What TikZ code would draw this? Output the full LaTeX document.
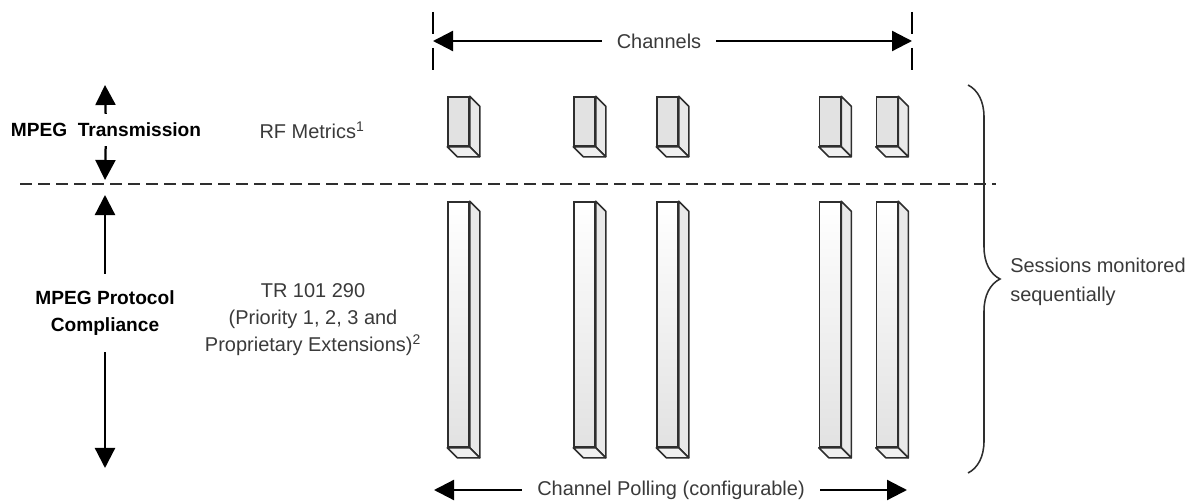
\documentclass[tikz,border=0pt]{standalone}
\usepackage{fontspec}
\setmainfont{Liberation Sans}
\usetikzlibrary{arrows.meta, decorations.pathreplacing}
\definecolor{cline}{HTML}{2E2E2E}
\definecolor{cface}{HTML}{E2E2E2}
\definecolor{cside}{HTML}{E9E9E9}
\definecolor{cbottom}{HTML}{F0F0F0}
\definecolor{ctext}{HTML}{3A3A3A}
\tikzset{
  every picture/.style={x=0.025cm, y=-0.025cm},
  lbl/.style={font=\fontsize{14.2}{19}\selectfont, text=ctext, align=center, inner sep=0pt},
  side/.style={font=\fontsize{13.6}{19}\selectfont\bfseries, text=black, align=center, inner xsep=0pt},
  front/.style={draw=cline, fill=cface, line width=1.1pt, minimum width=0.525cm, minimum height=1.225cm, inner sep=0pt},
  tall/.style={minimum height=6.125cm, top color=white, bottom color=cface},
  face/.style={draw=cline, line width=1.1pt, line join=round},
  arr/.style={-{Triangle[length=0.5cm, width=0.5cm]}, line width=1.6pt, draw=black},
  tick/.style={line width=1.5pt, draw=black},
  sep/.style={dashed, dash pattern=on 0.3cm off 0.15cm, line width=2pt, draw=cline},
}

\begin{document}
\begin{tikzpicture}
  \useasboundingbox (0,0) rectangle (1197,504);
  % channel boxes, short (RF) and tall (TR 101 290)
  \foreach \n/\x in {1/458.5, 2/584.5, 3/667.5, 4/830, 5/887} {
    \node[front] (s\n) at (\x,121.5) {};
    \filldraw[face, fill=cside] (s\n.north east) -- ++(10,10) -- ([shift={(10,10)}]s\n.south east) -- (s\n.south east) -- cycle;
    \filldraw[face, fill=cbottom] (s\n.south west) -- (s\n.south east) -- ([shift={(10,10)}]s\n.south east) -- ([shift={(10,10)}]s\n.south west) -- cycle;
    \node[front, tall] (t\n) at (\x,324.5) {};
    \filldraw[face, fill=cside] (t\n.north east) -- ++(10,10) -- ([shift={(10,10)}]t\n.south east) -- (t\n.south east) -- cycle;
    \filldraw[face, fill=cbottom] (t\n.south west) -- (t\n.south east) -- ([shift={(10,10)}]t\n.south east) -- ([shift={(10,10)}]t\n.south west) -- cycle;
  }

  % channels span
  \coordinate (chL) at (433,41);
  \coordinate (chR) at (912,41);
  \node[lbl, inner xsep=0.37cm] (chan) at (659,41) {Channels};
  \draw[arr] (chan) -- (chL);
  \draw[arr] (chan) -- (chR);
  \draw[tick] (chL) ++(0,-29) -- ++(0,22) (chL) ++(0,7) -- ++(0,22);
  \draw[tick] (chR) ++(0,-29) -- ++(0,22) (chR) ++(0,7) -- ++(0,22);

  % polling
  \coordinate (plL) at (434,490);
  \coordinate (plR) at (907,490);
  \node[lbl, inner xsep=0.38cm] (poll) at (671,490) {Channel Polling (configurable)};
  \draw[arr] (poll) -- (plL);
  \draw[arr] (poll) -- (plR);

  % layers on the left
  \coordinate (trTop) at (105,85);
  \coordinate (trBot) at (105,180);
  \coordinate (cpTop) at (105,195);
  \coordinate (cpBot) at (105,468);
  \node[side, inner ysep=0.22cm] (trans) at (106,130) {MPEG\hspace{0.55em}Transmission};
  \node[side, inner ysep=0.42cm] (compl) at (105,313) {MPEG Protocol\\Compliance};
  \draw[arr] (trans) -- (trTop);
  \draw[arr] (trans) -- (trBot);
  \draw[arr] (compl) -- (cpTop);
  \draw[arr] (compl) -- (cpBot);
  \coordinate (sepL) at (20,184);
  \coordinate (sepR) at (996,184);
  \draw[sep] (sepL) -- (sepR);

  \node[lbl] (rf) at (312,130) {RF Metrics\textsuperscript{1}};
  \node[lbl, font=\fontsize{14.2}{19.2}\selectfont] (tr) at (313,320) {TR 101 290\\(Priority 1, 2, 3 and\\Proprietary Extensions)\textsuperscript{2}};

  % sessions brace
  \coordinate (brTop) at (968,85);
  \coordinate (brBot) at (968,473);
  \draw[line width=1.1pt, draw=cline, decorate, decoration={brace, amplitude=0.8cm}] (brTop) -- (brBot);
  \node[lbl, align=left, anchor=west, font=\fontsize{14.2}{20.5}\selectfont] (sess) at (1010,282) {Sessions monitored\\sequentially};
\end{tikzpicture}
\end{document}
